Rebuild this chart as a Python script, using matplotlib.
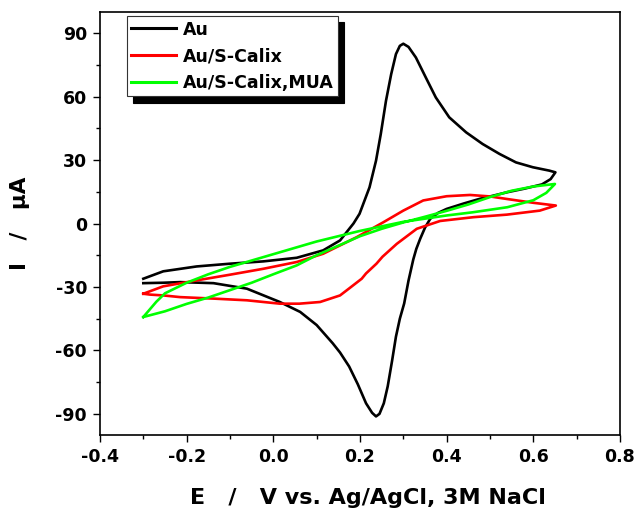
import matplotlib
matplotlib.use("Agg")
import matplotlib.pyplot as plt
from matplotlib.ticker import MultipleLocator

plt.rcParams['font.family'] = ['DejaVu Sans']
plt.rcParams['font.weight'] = 'bold'

labels = ["Au", "Au/S-Calix", "Au/S-Calix,MUA"]
colors = ["#000000", "#ff0000", "#00ff00"]

# Au (black): lower-left end -> reverse (cathodic) branch -> right end -> forward branch -> upper-left end
au_E = [-0.300, -0.254, -0.215, -0.138, -0.061, 0.015, 0.062, 0.100, 0.137, 0.154, 0.175, 0.195,
        0.214, 0.228, 0.237, 0.245, 0.255, 0.264, 0.274, 0.283, 0.292, 0.302, 0.312, 0.323,
        0.330, 0.339, 0.350, 0.362, 0.380, 0.400, 0.440, 0.477, 0.500, 0.540, 0.580, 0.620,
        0.640, 0.651,
        0.637, 0.599, 0.560, 0.522, 0.483, 0.445, 0.406, 0.375, 0.352, 0.329, 0.312, 0.300,
        0.292, 0.283, 0.272, 0.260, 0.248, 0.237, 0.222, 0.199, 0.185, 0.154, 0.115,
        0.054, -0.023, -0.100, -0.177, -0.254, -0.300]
au_I = [-28.2, -28.0, -27.7, -28.2, -30.8, -37.1, -41.8, -48.0, -56.6, -61.0, -67.6, -76.0,
        -85.0, -89.5, -91.2, -90.0, -85.0, -77.0, -65.0, -53.5, -45.0, -37.8, -27.0, -17.0,
        -12.0, -7.2, -2.0, 2.2, 5.0, 6.9, 9.5, 11.7, 12.8, 14.8, 16.5, 18.5,
        21.0, 24.2,
        25.0, 26.6, 28.9, 32.9, 37.6, 43.1, 50.2, 59.6, 69.0, 78.5, 83.5, 85.0,
        84.0, 80.1, 70.6, 58.0, 42.3, 29.7, 17.1, 4.6, 0.0, -8.0, -12.7,
        -16.2, -17.9, -19.0, -20.3, -22.6, -26.1]

# Au/S-Calix (red): closed loop
calix_E = [-0.300, -0.254, -0.177, -0.100, -0.023, 0.054, 0.115, 0.192, 0.254, 0.300, 0.346,
           0.400, 0.454, 0.500, 0.539, 0.600, 0.652,
           0.615, 0.539, 0.462, 0.385, 0.331, 0.285, 0.252, 0.238, 0.214, 0.204, 0.175,
           0.154, 0.108, 0.060, 0.015, -0.061, -0.138, -0.215, -0.254, -0.285, -0.300]
calix_I = [-33.2, -29.7, -26.9, -24.2, -21.4, -18.2, -14.3, -6.5, 0.6, 6.1, 10.9,
           12.9, 13.5, 12.8, 11.6, 9.8, 8.5,
           6.1, 4.2, 3.0, 1.2, -2.5, -9.6, -15.7, -19.0, -23.6, -26.1, -30.7,
           -34.0, -37.1, -37.9, -37.9, -36.3, -35.5, -34.8, -34.0, -33.6, -33.2]

# Au/S-Calix,MUA (green): closed, twisted loop
mua_E = [-0.300, -0.270, -0.250, -0.200, -0.150, -0.100, -0.050, 0.000, 0.050, 0.100, 0.200,
         0.300, 0.400, 0.460, 0.540, 0.600, 0.630, 0.650,
         0.600, 0.550, 0.500, 0.450, 0.400, 0.350, 0.300, 0.250, 0.200, 0.150, 0.100,
         0.054, 0.000, -0.050, -0.100, -0.150, -0.200, -0.250, -0.300]
mua_I = [-44.2, -37.0, -33.0, -28.0, -24.0, -20.5, -17.5, -14.5, -11.5, -8.5, -3.5,
         0.8, 3.8, 5.3, 7.7, 11.0, 14.5, 18.7,
         17.5, 15.5, 12.5, 9.0, 6.0, 3.2, 0.5, -2.5, -6.0, -10.5, -15.0,
         -19.8, -24.0, -28.0, -31.5, -35.0, -38.0, -41.5, -44.2]

xticks = [-0.4, -0.2, 0.0, 0.2, 0.4, 0.6, 0.8]
xticklabels = ["-0.4", "-0.2", "0.0", "0.2", "0.4", "0.6", "0.8"]
yticks = [-90, -60, -30, 0, 30, 60, 90]
yticklabels = ["-90", "-60", "-30", "0", "30", "60", "90"]

fig = plt.figure(figsize=(6.36, 5.13), dpi=100)
ax = fig.add_axes([0.1572, 0.152, 0.8176, 0.8246])

for E, I, c, lab in zip([au_E, calix_E, mua_E], [au_I, calix_I, mua_I], colors, labels):
    ax.plot(E, I, color=c, lw=1.9, label=lab, solid_joinstyle='round')

ax.set_xlim(-0.4, 0.8)
ax.set_ylim(-100, 100)
ax.xaxis.set_minor_locator(MultipleLocator(0.1))
ax.yaxis.set_minor_locator(MultipleLocator(15))
ax.set_xticks(xticks)
ax.set_xticklabels(xticklabels)
ax.set_yticks(yticks)
ax.set_yticklabels(yticklabels)

for s in ax.spines.values():
    s.set_linewidth(1.2)
ax.tick_params(which='major', direction='out', length=5.3, width=1.0, labelsize=12.5, pad=4,
               top=False, right=False)
ax.tick_params(which='minor', direction='out', length=2.6, width=1.0, top=False, right=False)
for t in ax.get_xticklabels() + ax.get_yticklabels():
    t.set_fontweight('bold')

ax.set_xlabel("E   /   V vs. Ag/AgCl, 3M NaCl", fontsize=16, fontweight='bold', labelpad=15)
ax.xaxis.set_label_coords(0.515, -0.125)
ax.set_ylabel("I   /   μA", fontsize=15.5, fontweight='bold', labelpad=18)

leg = ax.legend(loc='upper left', bbox_to_anchor=(0.052, 0.99), fancybox=False,
                shadow={'ox': 4.5, 'oy': -4.5, 'color': 'black', 'alpha': 1},
                prop={'weight': 'bold', 'size': 12.5}, handlelength=2.6, handletextpad=0.35,
                labelspacing=0.5, borderpad=0.25, borderaxespad=0)
leg.get_frame().set_edgecolor('#333333')
leg.get_frame().set_linewidth(0.8)
for line in leg.get_lines():
    line.set_linewidth(2.2)

fig.savefig("out.png", dpi=100)
